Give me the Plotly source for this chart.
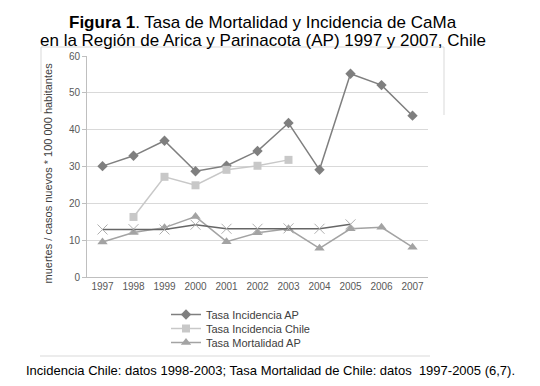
import plotly.graph_objects as go

years = ["1997", "1998", "1999", "2000", "2001", "2002", "2003", "2004", "2005", "2006", "2007"]
inc_ap = [30.1, 32.9, 37.0, 28.7, 30.2, 34.2, 41.8, 29.1, 55.2, 52.1, 43.8]
inc_chile = [None, 16.3, 27.2, 24.9, 29.1, 30.2, 31.8, None, None, None, None]
mort_ap = [9.5, 12.1, 13.4, 16.4, 9.6, 12.0, 13.1, 7.8, 13.1, 13.5, 8.1]
mort_chile = [12.9, 13.0, 12.9, 14.2, 13.1, 13.1, 13.2, 13.1, 14.3, None, None]
y_ticks = [0, 10, 20, 30, 40, 50, 60]

FONT = "Liberation Sans, Arial, sans-serif"

OFF = 8  # page body margin
W, H = 540 - OFF, 386 - OFF
L, R, T, B = 87 - OFF, 428 - OFF, 56 - OFF, 277 - OFF
PW, PH = R - L, B - T

def px(x):
    return (x - OFF - L) / PW

def py(y):
    return (B - (y - OFF)) / PH

fig = go.Figure()
fig.add_trace(go.Scatter(
    x=years, y=inc_ap, name="Tasa Incidencia AP", mode="lines+markers", legend="legend",
    line=dict(color="#7f7f7f", width=1.5),
    marker=dict(symbol="diamond", size=8, color="#7f7f7f")))
fig.add_trace(go.Scatter(
    x=years, y=inc_chile, name="Tasa Incidencia Chile", mode="lines+markers", legend="legend2",
    line=dict(color="#c8c8c8", width=1.5),
    marker=dict(symbol="square", size=8, color="#c8c8c8")))
fig.add_trace(go.Scatter(
    x=years, y=mort_ap, name="Tasa Mortalidad AP", mode="lines+markers", legend="legend3",
    line=dict(color="#a3a3a3", width=1.5),
    marker=dict(symbol="triangle-up", size=9, color="#a3a3a3")))
fig.add_trace(go.Scatter(
    x=years, y=mort_chile, name="Tasa Mortalidad Chile", mode="lines+markers",
    showlegend=False,
    line=dict(color="#666666", width=1.5),
    marker=dict(symbol="x-thin-open", size=10, color="#b0b0b0", line=dict(color="#b0b0b0", width=1))))

def leg(row_center):
    return dict(x=px(166), y=py(row_center - 15), xref="paper", yref="paper",
                xanchor="left", yanchor="top",
                font=dict(size=11, color="#404040", family=FONT),
                bgcolor="rgba(0,0,0,0)", itemwidth=30, tracegroupgap=0)

fig.update_layout(
    width=W, height=H,
    margin=dict(l=L, r=W - R, t=T, b=H - B, autoexpand=False),
    paper_bgcolor="white", plot_bgcolor="white",
    font=dict(family=FONT, color="#404040"),
    showlegend=True,
    legend=leg(315), legend2=leg(329), legend3=leg(343),
    xaxis=dict(type="category", range=[-0.5, 10.5], showgrid=False, showline=True,
               linecolor="#bfbfbf", ticks="", tickfont=dict(size=10, color="#595959"),
               zeroline=False, automargin=False),
    yaxis=dict(range=[0, 60], tickvals=y_ticks, showgrid=True, gridcolor="#d9d9d9",
               gridwidth=1, showline=True, linecolor="#bfbfbf", ticks="outside",
               ticklen=4, tickcolor="#bfbfbf", tickfont=dict(size=10, color="#595959"),
               zeroline=False, automargin=False),
)

# Y axis title (placed as rotated text, centred slightly below plot centre as in reference)
fig.add_annotation(text="muertes / casos nuevos * 100 000 habitantes",
                   xref="paper", yref="paper", x=px(47.5), y=py(173), textangle=-90,
                   showarrow=False, font=dict(size=11, color="#404040", family=FONT),
                   xanchor="center", yanchor="middle")
# Title
fig.add_annotation(text="<b>Figura 1</b>. Tasa de Mortalidad y Incidencia de CaMa",
                   xref="paper", yref="paper", x=px(263), y=py(22),
                   showarrow=False, font=dict(size=17, color="black", family=FONT),
                   xanchor="center", yanchor="middle")
fig.add_annotation(text="en la Región de Arica y Parinacota (AP) 1997 y 2007, Chile",
                   xref="paper", yref="paper", x=px(263), y=py(40),
                   showarrow=False, font=dict(size=17, color="black", family=FONT),
                   xanchor="center", yanchor="middle")
# Footnote
fig.add_annotation(text="Incidencia Chile: datos 1998-2003; Tasa Mortalidad de Chile: datos  1997-2005 (6,7).",
                   xref="paper", yref="paper", x=px(270), y=py(370),
                   showarrow=False, font=dict(size=13, color="black", family=FONT),
                   xanchor="center", yanchor="middle")

# Partial chart frame
frame_color = "#d9d9d9"
for (x0, y0, x1, y1) in [(41, 47, 444, 47), (41, 47, 41, 112), (444, 47, 444, 115), (40, 356, 430, 356)]:
    fig.add_shape(type="line", xref="paper", yref="paper",
                  x0=px(x0), y0=py(y0), x1=px(x1), y1=py(y1),
                  line=dict(color=frame_color, width=1))

fig.write_html("out.html")
